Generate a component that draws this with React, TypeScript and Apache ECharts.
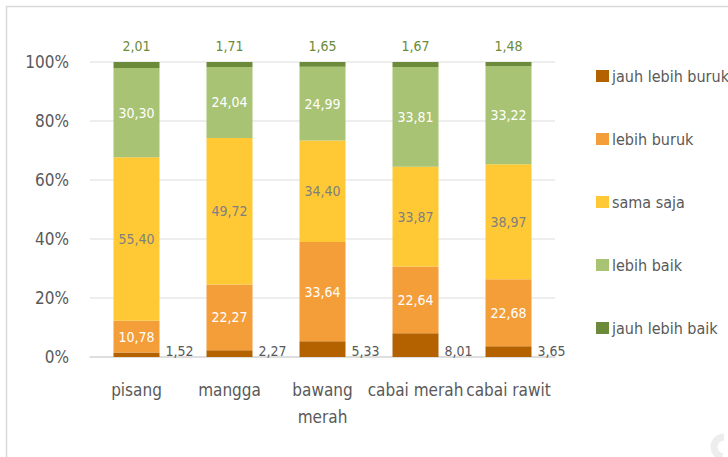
import React, { useEffect, useRef } from "react";
import * as echarts from "echarts";

const categories = ["pisang", "mangga", "bawang\nmerah", "cabai merah", "cabai rawit"];
const seriesNames = ["jauh lebih buruk", "lebih buruk", "sama saja", "lebih baik", "jauh lebih baik"];
const jauhLebihBuruk = [1.52, 2.27, 5.33, 8.01, 3.65];
const lebihBuruk = [10.78, 22.27, 33.64, 22.64, 22.68];
const samaSaja = [55.4, 49.72, 34.4, 33.87, 38.97];
const lebihBaik = [30.3, 24.04, 24.99, 33.81, 33.22];
const jauhLebihBaik = [2.01, 1.71, 1.65, 1.67, 1.48];
const yTicks = [0, 20, 40, 60, 80, 100];

const colors = ["#B46200", "#F49E3A", "#FFC935", "#A8C373", "#6C8B3A"];
const FONT = "'DejaVu Sans Condensed', 'Liberation Sans Narrow', sans-serif";

const fmt = (v: number) => v.toFixed(2).replace(".", ",");

export default function App() {
  const ref = useRef<HTMLDivElement>(null);
  useEffect(() => {
    document.body.style.margin = "0";
    const chart = echarts.init(ref.current!, null, { renderer: "svg" });
    const data = [jauhLebihBuruk, lebihBuruk, samaSaja, lebihBaik, jauhLebihBaik];
    const labelCfg = (i: number): any => {
      const base = { show: true, fontFamily: FONT, fontSize: 14, formatter: (p: any) => fmt(p.value) };
      if (i === 0) {
        return { ...base, position: ["100%", "100%"], offset: [6, -6], align: "left", verticalAlign: "middle", color: "#595959" };
      }
      if (i === 4) {
        return { ...base, position: "top", distance: 9, color: "#6C8B3A" };
      }
      return { ...base, position: "inside", color: i === 2 ? "#7F7F7F" : "#FFFFFF" };
    };
    chart.setOption({
      animation: false,
      textStyle: { fontFamily: FONT },
      grid: { left: 90, right: 173, top: 62, bottom: 100, containLabel: false },
      legend: {
        orient: "vertical",
        left: 591,
        top: 63,
        itemWidth: 13,
        itemHeight: 12,
        itemGap: 47,
        icon: "rect",
        data: seriesNames,
        textStyle: { fontFamily: FONT, fontSize: 16, color: "#595959", padding: [0, 0, 0, -2] },
      },
      xAxis: {
        type: "category",
        data: categories,
        axisLine: { lineStyle: { color: "#D9D9D9", width: 1.5 } },
        axisTick: { show: false },
        axisLabel: { fontFamily: FONT, fontSize: 17, color: "#595959", margin: 19, lineHeight: 27, interval: 0, verticalAlign: "top" },
      },
      yAxis: {
        type: "value",
        min: yTicks[0],
        max: yTicks[yTicks.length - 1],
        interval: 20,
        axisLine: { show: false },
        axisTick: { show: false },
        splitLine: { lineStyle: { color: "#E8E8E8", width: 1.5 } },
        axisLabel: { fontFamily: FONT, fontSize: 17, color: "#595959", margin: 21, formatter: "{value}%" },
      },
      graphic: [
        {
          type: "rect",
          shape: { x: 6.5, y: 6.5, width: 900, height: 900 },
          style: { fill: "none", stroke: "#D9D9D9", lineWidth: 1.5 },
          silent: true,
        },
        {
          type: "arc",
          shape: { cx: 724, cy: 447, r: 10, startAngle: Math.PI * 0.55, endAngle: Math.PI * 1.5 },
          style: { fill: "none", stroke: "#EDEDED", lineWidth: 7 },
          silent: true,
        },
      ],
      series: seriesNames.map((name, i) => ({
        name,
        type: "bar",
        stack: "total",
        barWidth: 46,
        data: data[i],
        itemStyle: { color: colors[i] },
        label: labelCfg(i),
      })),
    });
    return () => chart.dispose();
  }, []);
  return <div ref={ref} style={{ width: 728, height: 457 }} />;
}
